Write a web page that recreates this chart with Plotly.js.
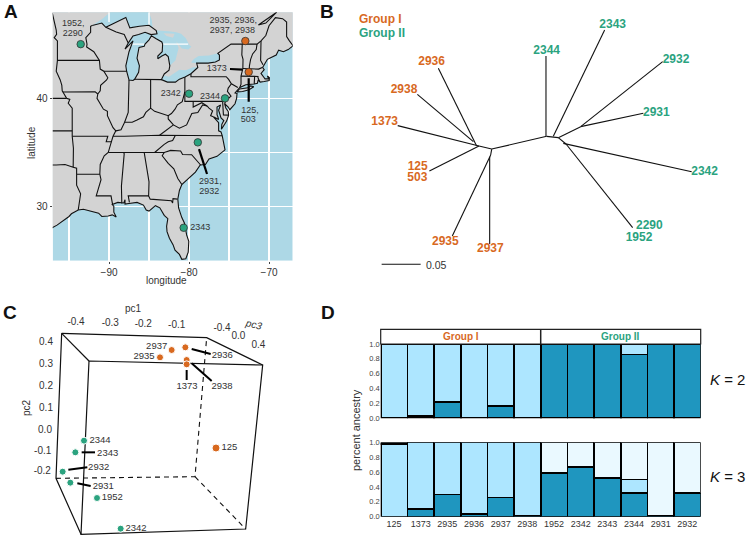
<!DOCTYPE html>
<html><head><meta charset="utf-8">
<script src="https://cdn.plot.ly/plotly-3.0.1.min.js"></script>
<style>html,body{margin:0;padding:0;background:#fff}</style></head><body>
<div id="plot" style="width:748px;height:539px"></div>
<script>
/* ---------- colours ---------- */
const ORANGE='#D8691F', GREEN='#2BA37F', LAND='#D3D3D3', SEA='#ADD8E6', INK='#333333';
const DARKBAR='#1F96BF', MIDBAR='#ADE6FF', PALEBAR='#EAF9FF';
const FONT='"Liberation Sans", Arial, sans-serif';

/* ---------- panel A: map geography (lon,lat) ---------- */
const eastCoast=[[-66,44.6],[-67.0,44.85],[-67.6,44.5],[-68.2,44.3],[-68.8,44.45],[-69.1,44.0],[-69.8,43.75],[-70.2,43.6],[-70.6,43.1],[-70.8,42.85],[-70.6,42.65],[-71.0,42.3],[-70.65,41.95],[-70.5,41.8],[-70.05,41.8],[-70.2,42.07],[-69.95,41.9],[-69.98,41.65],[-70.6,41.55],[-71.1,41.5],[-71.35,41.7],[-71.45,41.4],[-71.85,41.32],[-72.9,41.25],[-73.65,41.0],[-74.0,40.72],[-74.25,40.5],[-74.0,40.45],[-74.05,40.0],[-74.25,39.5],[-74.9,38.95],[-75.1,39.2],[-75.55,39.5],[-75.4,39.1],[-75.1,38.8],[-75.05,38.45],[-75.3,37.9],[-75.95,37.15],[-75.9,37.6],[-75.65,37.95],[-76.0,38.2],[-76.3,38.9],[-76.05,39.4],[-76.5,39.2],[-76.5,38.5],[-76.4,38.3],[-76.3,38.05],[-76.95,38.3],[-76.3,37.75],[-76.3,37.0],[-76.0,36.9],[-75.85,36.55],[-75.5,35.25],[-76.5,34.65],[-77.5,34.4],[-77.95,33.9],[-78.6,33.85],[-79.2,33.2],[-79.9,32.7],[-80.5,32.3],[-80.9,32.05],[-81.2,31.5],[-81.4,30.7],[-81.3,29.9],[-80.9,29.0],[-80.55,28.45],[-80.3,27.4],[-80.03,26.8],[-80.1,25.8],[-80.4,25.2],[-80.9,25.15],[-81.2,25.6],[-81.75,26.0],[-82.0,26.5],[-82.45,27.1],[-82.75,27.7],[-82.8,28.2],[-82.65,28.9],[-83.1,29.2],[-83.65,29.9],[-84.2,30.1],[-85.0,29.6],[-85.35,29.7],[-85.7,30.15],[-86.5,30.4],[-87.5,30.3],[-88.0,30.25],[-88.0,30.65],[-88.15,30.35],[-88.9,30.4],[-89.6,30.2],[-89.4,30.05],[-89.4,29.5],[-89.1,29.05],[-89.6,29.25],[-90.1,29.15],[-90.9,29.1],[-91.3,29.4],[-91.8,29.5],[-92.2,29.55],[-93.2,29.77],[-93.85,29.7],[-94.7,29.35],[-95.0,29.1],[-95.9,28.6],[-96.5,28.3],[-98,27.7]];
const longIsland=[[-74.0,40.6],[-73.7,40.87],[-72.6,40.97],[-72.3,41.15],[-71.9,41.07],[-72.5,40.8],[-73.3,40.63]];
const lakeSuperior=[[-92.1,46.72],[-90.9,47.3],[-90.0,47.85],[-89.2,48.4],[-88.2,48.9],[-86.4,48.8],[-85.0,47.95],[-84.65,47.2],[-84.55,46.5],[-85.0,46.75],[-86.2,46.65],[-87.4,46.5],[-87.9,47.47],[-88.4,47.3],[-89.5,46.85],[-90.4,46.55],[-90.9,46.95]];
const lakeMichigan=[[-87.5,41.7],[-87.8,42.5],[-87.9,43.0],[-87.7,43.7],[-87.5,44.3],[-87.0,45.3],[-87.55,44.85],[-88.0,44.55],[-87.6,45.1],[-87.0,45.75],[-86.3,45.9],[-85.5,46.1],[-84.75,45.88],[-84.75,45.78],[-85.0,45.4],[-85.5,45.0],[-85.6,44.8],[-86.25,44.7],[-86.5,43.7],[-86.2,43.0],[-86.3,42.4],[-86.8,41.76],[-87.0,41.65]];
const lakeHuron=[[-84.7,45.85],[-84.0,45.95],[-84.1,46.25],[-83.5,46.25],[-82.5,46.2],[-81.6,46.1],[-81.0,45.95],[-80.4,45.55],[-79.95,44.9],[-79.7,44.75],[-80.1,44.5],[-80.9,44.6],[-81.6,45.25],[-81.3,44.65],[-81.7,43.5],[-82.4,43.0],[-82.6,43.85],[-82.95,44.07],[-83.4,43.9],[-83.9,43.65],[-83.9,43.9],[-83.35,44.3],[-83.3,45.0],[-83.4,45.2],[-84.1,45.5],[-84.7,45.78]];
const manitoulin=[[-83.2,46.0],[-82.5,45.97],[-81.8,45.95],[-82.0,45.6],[-82.8,45.75]];
const lakeErie=[[-83.45,41.73],[-82.7,41.5],[-81.7,41.5],[-81.2,41.77],[-80.5,41.98],[-80.1,42.15],[-79.76,42.27],[-78.9,42.85],[-79.5,42.87],[-80.4,42.6],[-81.2,42.65],[-82.0,42.25],[-82.5,42.0],[-83.1,42.1]];
const lakeOntario=[[-79.75,43.3],[-79.05,43.25],[-77.6,43.25],[-76.7,43.35],[-76.2,43.55],[-76.2,44.0],[-76.4,44.15],[-77.5,43.95],[-78.8,43.9],[-79.4,43.63]];
const lakeGrid=[[[-87.3,45],[-85.55,45]],[[-83.3,45],[-80.1,45]],[[-90,47.05],[-90,47.94]],[[-85,46.7],[-85,47.94]]];
const borders=[
 [[-92.1,46.72],[-92.3,46.65],[-92.3,46.1],[-92.9,45.6],[-92.75,45.0],[-92.8,44.75],[-91.9,44.3],[-91.2,43.5],[-91.1,42.7],[-90.65,42.5],[-90.15,41.9],[-90.3,41.7],[-91.05,41.2],[-91.1,40.7],[-91.4,40.4],[-91.5,40.0],[-90.7,39.0],[-90.2,38.8],[-90.2,38.4],[-89.5,37.3],[-89.15,37.0],[-89.5,36.5],[-89.7,36.0],[-89.9,35.6],[-90.1,35.0],[-90.6,34.7],[-91.1,33.9],[-91.15,33.0],[-91.0,32.5],[-91.6,31.0],[-89.75,31.0],[-89.55,30.2]],
 [[-97.1,47.9],[-96.8,47.0],[-96.6,46.3],[-96.55,45.9],[-96.85,45.6],[-96.45,45.3],[-96.45,43.5],[-96.6,42.5],[-96.1,41.7],[-95.9,41.2],[-95.85,40.7],[-95.3,40.0],[-94.9,39.9],[-95.1,39.55],[-94.6,39.1],[-94.6,36.5],[-94.45,35.4],[-94.48,33.65],[-95.5,33.9],[-96.6,33.85],[-97.1,33.85]],
 [[-96.45,43.5],[-91.2,43.5]],[[-95.77,40.58],[-91.73,40.6],[-91.4,40.4]],[[-97.1,40],[-95.3,40]],[[-97.1,37],[-94.6,37]],
 [[-89.7,36.0],[-90.35,36.0],[-90.15,36.5],[-94.6,36.5]],
 [[-91.15,33.0],[-94.05,33.0],[-94.05,33.55],[-94.48,33.65]],[[-94.05,33.0],[-94.05,31.99],[-93.55,31.2],[-93.75,30.4],[-93.85,29.7]],
 [[-92.1,46.72],[-90.9,46.95],[-90.4,46.55],[-89.1,46.13],[-88.1,45.9],[-87.8,45.35],[-87.6,45.1],[-88.0,44.55],[-87.55,44.85],[-87.0,45.3],[-87.5,44.3],[-87.7,43.7],[-87.9,43.0],[-87.8,42.5],[-87.55,41.75],[-87.5,41.7],[-87.0,41.65],[-86.8,41.76],[-86.3,42.4],[-86.2,43.0],[-86.5,43.7],[-86.25,44.7],[-85.6,44.8],[-85.5,45.0],[-85.0,45.4],[-84.7,45.78],[-84.1,45.5],[-83.4,45.2],[-83.3,45.0],[-83.35,44.3],[-83.9,43.9],[-83.9,43.65],[-83.4,43.9],[-82.95,44.07],[-82.6,43.85],[-82.4,43.0],[-82.5,42.6],[-83.1,42.25],[-83.45,41.73],[-82.7,41.5],[-81.7,41.5],[-81.2,41.77],[-80.5,41.98],[-80.1,42.15],[-79.76,42.27],[-78.9,42.85],[-79.05,43.25],[-77.6,43.25],[-76.7,43.35],[-76.2,43.55],[-76.2,44.0],[-76.4,44.15],[-74.75,45.0],[-71.5,45.0],[-71.0,45.3],[-70.4,45.8],[-70.0,46.7],[-69.2,47.45],[-68.3,47.35],[-67.8,47.05],[-67.8,45.7],[-67.45,45.3],[-67.0,44.85]],
 [[-87.6,45.1],[-87.0,45.75],[-86.3,45.9],[-85.5,46.1],[-84.75,45.88],[-84.0,45.95],[-84.1,46.25],[-84.55,46.5],[-85.0,46.75],[-86.2,46.65],[-87.4,46.5],[-87.9,47.47],[-88.4,47.3],[-89.5,46.85],[-90.4,46.55]],
 [[-90.65,42.5],[-87.8,42.5]],[[-87.5,41.7],[-87.53,39.3],[-87.6,38.7],[-88.05,37.8]],
 [[-89.15,37.0],[-88.5,37.1],[-88.05,37.8],[-87.1,37.8],[-86.5,38.0],[-85.7,38.3],[-85.4,38.7],[-84.8,39.1],[-84.3,38.8],[-83.7,38.65],[-82.6,38.4],[-82.2,38.6],[-81.75,39.0],[-81.45,39.4],[-80.85,39.7],[-80.52,40.6]],
 [[-84.8,39.1],[-84.8,41.72]],[[-86.8,41.76],[-84.8,41.72],[-83.45,41.73]],
 [[-79.76,42.27],[-79.76,42.0],[-75.35,42.0],[-75.05,41.75],[-74.7,41.35],[-73.9,41.0]],
 [[-74.7,41.35],[-75.1,40.95],[-75.2,40.65],[-74.75,40.2],[-75.4,39.8],[-75.55,39.5]],
 [[-80.52,41.98],[-80.52,39.72],[-75.8,39.72],[-75.4,39.8]],[[-75.8,39.72],[-75.7,38.46],[-75.05,38.45]],
 [[-79.48,39.72],[-79.48,39.2],[-78.4,39.6],[-77.75,39.3],[-77.5,39.1],[-77.05,38.85],[-77.3,38.4],[-76.95,38.3]],
 [[-77.75,39.3],[-78.3,39.4],[-78.9,38.7],[-79.65,38.6],[-80.3,37.55],[-81.2,37.25],[-81.95,37.55],[-82.6,38.1],[-82.6,38.4]],
 [[-81.95,37.55],[-83.68,36.6]],[[-75.87,36.55],[-81.7,36.59],[-83.68,36.6],[-88.07,36.5],[-89.5,36.5]],
 [[-81.7,36.59],[-82.05,36.1],[-82.6,36.0],[-83.1,35.75],[-84.3,35.0]],[[-90.1,35.0],[-84.3,35.0],[-83.1,35.0],[-82.3,35.2],[-81.05,35.15],[-80.8,34.82],[-79.67,34.8],[-78.55,33.85]],
 [[-83.1,35.0],[-83.35,34.7],[-82.6,34.0],[-81.9,33.5],[-81.4,32.6],[-80.9,32.05]],
 [[-85.6,35.0],[-85.18,32.85],[-85.0,32.3],[-85.05,31.0],[-84.85,30.7],[-82.2,30.55],[-82.05,30.35],[-82.0,30.75],[-81.45,30.7]],
 [[-85.0,31.0],[-87.6,31.0],[-87.45,30.4]],[[-88.2,35.0],[-88.1,34.9],[-88.45,31.9],[-88.4,30.3]],
 [[-71.5,45.0],[-71.6,44.5],[-72.05,44.1],[-72.3,43.6],[-72.45,43.0],[-72.46,42.73]],
 [[-73.35,45.0],[-73.4,44.0],[-73.25,43.6],[-73.27,42.75],[-73.5,42.05],[-73.5,41.3],[-73.65,41.0]],
 [[-73.27,42.75],[-71.3,42.7],[-70.85,42.85]],[[-73.5,42.05],[-71.8,42.02],[-71.38,42.02],[-71.38,41.9],[-71.15,41.5]],[[-71.8,42.02],[-71.85,41.32]],
 [[-70.75,43.1],[-71.05,43.5],[-71.0,45.3]],
 [[-71.33,46.77],[-69.04,47.95],[-70.4,46.95],[-71.33,46.77]]
];
/* sampling sites */
const siteLon=[-93.54,-72.96,-72.54,-80.0,-75.5,-78.9,-80.67];
const siteLat=[45.0,45.29,42.43,40.43,40.0,35.94,28.06];
const siteColor=[GREEN,ORANGE,ORANGE,GREEN,GREEN,GREEN,GREEN];
const mapLabel=['1952,','2290','2935, 2936,','2937, 2938','1373','125,','503','2342','2344','2931,','2932','2343'];
const mapLabelLon=[-94.46,-94.54,-74.46,-74.58,-76.54,-72.38,-72.58,-82.29,-77.38,-77.33,-77.46,-78.58];
const mapLabelLat=[46.9,45.94,47.17,46.22,42.77,38.83,38.0,40.4,40.12,32.31,31.35,28.09];
const mapLeaders=[[[-74.88,42.71],[-73.33,42.65]],[[-72.54,41.85],[-72.54,39.69]],[[-78.75,35.32],[-77.75,33.02]]];

/* ---------- panel B: tree, branch ends in units of 0.01 substitutions ---------- */
const treeBranches=[
 [[20.73,16.79],[27.78,18.42]],[[19.10,17.18],[20.73,16.79]],[[27.78,18.42],[29.27,18.25]],
 [[8.68,19.79],[19.10,17.18]],[[12.74,13.97],[19.10,17.18]],[[13.89,27.14],[18.80,17.18]],[[11.20,23.80],[18.38,17.74]],
 [[20.47,4.62],[20.47,15.81]],[[15.68,5.64],[20.60,16.03]],[[20.60,16.03],[20.73,16.79]],
 [[27.69,28.72],[27.69,18.42]],[[35.21,32.05],[28.63,18.42]],[[29.27,18.25],[32.14,19.66]],
 [[42.65,27.99],[32.14,19.66]],[[40.17,21.37],[32.14,19.66]],[[46.37,13.89],[29.91,17.52]],
 [[29.27,18.25],[30.26,17.44]],[[38.80,6.71],[30.26,17.44]]];
const treeScale=[[6.62,2.01],[11.62,2.01]];
const treeLabel=['2936','2938','1373','125','503','2935','2937','2344','2343','2932','2931','2342','2290','1952'];
const treeLabelX=[13.03,9.49,7.01,11.24,11.20,14.79,20.56,27.78,36.24,44.36,41.84,48.03,40.94,39.62];
const treeLabelY=[27.99,24.32,20.30,14.53,13.08,4.83,3.97,29.40,32.74,28.16,21.41,13.80,6.96,5.38];
const treeLabelColor=[ORANGE,ORANGE,ORANGE,ORANGE,ORANGE,ORANGE,ORANGE,GREEN,GREEN,GREEN,GREEN,GREEN,GREEN,GREEN];

/* ---------- panel C: PCA cube, projected coordinates ---------- */
const cubeSolid=[[[267,198],[788,210],[737,702],[243,718],[267,198]],[[185,115],[267,198]],[[185,115],[620,128],[788,210]],[[185,115],[168,550],[243,718]]];
const cubeDashed=[[[168,550],[585,545],[620,128]],[[585,545],[737,702]]];
const pcaName=['2937','2936','2935','2938','1373','125','2344','2343','2932','2931','1952','2342'];
const pcaX=[515,556,480,560,560,648,252,226,188,211,291,362];
const pcaY=[165,157,187,195,208,459,437,472,530,563,609,701];
const pcaColor=[ORANGE,ORANGE,ORANGE,ORANGE,ORANGE,ORANGE,GREEN,GREEN,GREEN,GREEN,GREEN,GREEN];
const pcaSize=[7,7,7,7,7,8,7,7,7,7,7,7];
const pcaLabelX=[470,667,432,666,561,688,300,323,296,310,337,408];
const pcaLabelY=[155,182,186,276,276,458,438,476,517,574,609,701];
const pcaLeaders=[[[575,162],[632,177]],[[575,205],[635,258]],[[560,225],[560,255]],[[245,472],[285,472]],[[205,524],[262,517]],[[232,565],[272,573]]];
const cubeTick=['-0.4','-0.3','-0.2','-0.1','-0.4','0.0','0.4','0.4','0.3','0.2','0.1','0.0','-0.1','-0.2'];
const cubeTickX=[228,331,430,530,666,715,775,138,138,138,138,135,128,127];
const cubeTickY=[82,84,87,90,100,124,150,143,209,275,340,405,468,530];

/* ---------- panel D: ancestry ---------- */
const samples=['125','1373','2935','2936','2937','2938','1952','2342','2343','2344','2931','2932'];
const k2Dark=[null,0.03,0.22,null,0.17,null,1,1,1,0.86,1,1];
const k2Light=[1,0.97,0.78,1,0.83,1,null,null,null,0.14,null,null];
const k3Dark=[null,0.10,0.30,0.04,0.26,0.015,0.59,0.67,0.52,0.32,0.015,0.32];
const k3Light=[0.98,0.90,0.70,0.96,0.74,0.985,null,null,null,0.18,null,null];
const k3Pale=[0.02,null,null,null,null,null,0.41,0.33,0.48,0.50,0.985,0.68];
const ancestryTicks=[0,0.2,0.4,0.6,0.8,1];

/* ---------- helpers ---------- */
const W=748,H=539;
const dx=(a,b)=>[a/W,b/W], dy=(top,bot)=>[1-bot/H,1-top/H];
const px=v=>v/W, py=v=>1-v/H;
const flat=(lines,i)=>lines.flatMap(l=>l.map(p=>p[i]).concat([null]));
const landOuter=[[-98,27.7],[-98,50],[-66,50]].concat(eastCoast);
const closed=l=>l.concat([l[0]]);
const hidden={visible:false,showgrid:false,zeroline:false};
const traces=[];
/* map */
function fillPoly(parts,col){const c=parts.map(closed);traces.push({type:'scatter',mode:'lines',xaxis:'x',yaxis:'y',x:flat(c,0),y:flat(c,1),fill:'toself',fillcolor:col,line:{width:0,color:col},hoverinfo:'skip'});}
fillPoly([landOuter,longIsland],LAND);
[lakeSuperior,lakeMichigan,lakeHuron,lakeErie,lakeOntario].forEach(l=>fillPoly([l],SEA));
fillPoly([manitoulin],LAND);
traces.push({type:'scatter',mode:'lines',xaxis:'x',yaxis:'y',x:flat(lakeGrid,0),y:flat(lakeGrid,1),line:{width:1.4,color:'#fff'},hoverinfo:'skip'});
traces.push({type:'scatter',mode:'lines',xaxis:'x',yaxis:'y',x:flat(borders.concat([eastCoast,closed(longIsland)]),0),y:flat(borders.concat([eastCoast,closed(longIsland)]),1),
  line:{width:1.1,color:'#111'},hoverinfo:'skip'});
traces.push({type:'scatter',mode:'lines',xaxis:'x',yaxis:'y',x:flat(mapLeaders,0),y:flat(mapLeaders,1),line:{width:2.2,color:'#000'},hoverinfo:'skip'});
traces.push({type:'scatter',mode:'markers',xaxis:'x',yaxis:'y',x:siteLon,y:siteLat,marker:{size:7.5,color:siteColor,opacity:1,line:{width:0.8,color:'#333'}}});
traces.push({type:'scatter',mode:'text',xaxis:'x',yaxis:'y',x:mapLabelLon,y:mapLabelLat,text:mapLabel,textposition:'middle center',textfont:{family:FONT,size:9,color:INK},cliponaxis:false});
/* tree */
traces.push({type:'scatter',mode:'lines',xaxis:'x2',yaxis:'y2',x:flat(treeBranches,0),y:flat(treeBranches,1),line:{width:1.1,color:'#111'}});
traces.push({type:'scatter',mode:'lines',xaxis:'x2',yaxis:'y2',x:treeScale.map(p=>p[0]),y:treeScale.map(p=>p[1]),line:{width:1.1,color:'#111'}});
traces.push({type:'scatter',mode:'text',xaxis:'x2',yaxis:'y2',x:treeLabelX,y:treeLabelY,text:treeLabel.map(s=>'<b>'+s+'</b>'),textposition:'middle center',textfont:{family:FONT,size:12,color:treeLabelColor}});
/* cube */
traces.push({type:'scatter',mode:'lines',xaxis:'x3',yaxis:'y3',x:flat(cubeSolid,0),y:flat(cubeSolid,1),line:{width:1.2,color:'#111'}});
traces.push({type:'scatter',mode:'lines',xaxis:'x3',yaxis:'y3',x:flat(cubeDashed,0),y:flat(cubeDashed,1),line:{width:1.1,color:'#111',dash:'5px,4px'}});
traces.push({type:'scatter',mode:'lines',xaxis:'x3',yaxis:'y3',x:flat(pcaLeaders,0),y:flat(pcaLeaders,1),line:{width:2,color:'#000'}});
traces.push({type:'scatter',mode:'markers',xaxis:'x3',yaxis:'y3',x:pcaX,y:pcaY,marker:{size:pcaSize,sizemode:'diameter',color:pcaColor,opacity:1}});
traces.push({type:'scatter',mode:'text',xaxis:'x3',yaxis:'y3',x:pcaLabelX,y:pcaLabelY,text:pcaName,textposition:'middle center',textfont:{family:FONT,size:9.5,color:INK}});
traces.push({type:'scatter',mode:'text',xaxis:'x3',yaxis:'y3',x:cubeTickX,y:cubeTickY,text:cubeTick,textposition:'middle center',textfont:{family:FONT,size:10,color:INK}});
/* bars */
const barLine={color:'#000',width:1.7};
function bars(ax,ay,vals,col){traces.push({type:'bar',xaxis:ax,yaxis:ay,x:samples,y:vals,marker:{color:col,line:barLine},cliponaxis:false,hoverinfo:'skip'});}
bars('x4','y4',k2Dark,DARKBAR);bars('x4','y4',k2Light,MIDBAR);
bars('x5','y5',k3Dark,DARKBAR);bars('x5','y5',k3Light,MIDBAR);bars('x5','y5',k3Pale,PALEBAR);

const gridMinorX={tickvals:[-95,-85,-75],showgrid:true,gridcolor:'#fff',gridwidth:1.4,ticks:''};
const gridMinorY={tickvals:[35,45],showgrid:true,gridcolor:'#fff',gridwidth:1.4,ticks:''};
const ann=(text,x,y,o)=>Object.assign({text,x:px(x),y:py(y),xref:'paper',yref:'paper',showarrow:false,font:{family:FONT,size:10,color:INK},xanchor:'center',yanchor:'middle'},o||{});
const letter={font:{family:FONT,size:19,color:'#111'}};

const layout={width:W,height:H,autosize:false,margin:{l:0,r:0,t:0,b:0,pad:0},paper_bgcolor:'#fff',plot_bgcolor:'#fff',showlegend:false,barmode:'stack',bargap:0,hovermode:false,
 font:{family:FONT,color:INK},
 xaxis:{domain:dx(52.7,292.7),range:[-97.04,-67.04],anchor:'y',tickvals:[-90,-80,-70],ticks:'outside',ticklen:2,tickcolor:'#444',tickwidth:1,tickfont:{family:FONT,size:10,color:INK},showgrid:true,gridcolor:'#fff',gridwidth:1.4,zeroline:false,showline:false,minor:gridMinorX},
 yaxis:{domain:dy(12.3,260.7),range:[25.02,47.94],anchor:'x',tickvals:[30,40],ticks:'outside',ticklen:2,tickcolor:'#444',tickwidth:1,tickfont:{family:FONT,size:10,color:INK},showgrid:true,gridcolor:'#fff',gridwidth:1.4,zeroline:false,showline:false,minor:gridMinorY},
 xaxis2:Object.assign({domain:dx(330,748),range:[0,53.59],anchor:'y2'},hidden),
 yaxis2:Object.assign({domain:dy(0,280),range:[0,35.9],anchor:'x2'},hidden),
 xaxis3:Object.assign({domain:dx(0,280),range:[0,840],anchor:'y3'},hidden),
 yaxis3:Object.assign({domain:dy(295,539),range:[732,0],anchor:'x3'},hidden),
 xaxis4:{domain:dx(380.7,700.7),range:[-0.5,11.5],anchor:'y4',type:'category',categoryorder:'array',categoryarray:samples,showticklabels:false,ticks:'',showgrid:false,zeroline:false,showline:false},
 yaxis4:{domain:dy(344,418.3),range:[0,1],anchor:'x4',tickvals:ancestryTicks,tickformat:'.1f',ticks:'',tickfont:{family:FONT,size:7.5,color:'#444'},showgrid:false,zeroline:false,showline:false,ticklabelstandoff:0},
 xaxis5:{domain:dx(380.7,700.7),range:[-0.5,11.5],anchor:'y5',type:'category',categoryorder:'array',categoryarray:samples,tickfont:{family:FONT,size:9,color:INK},ticks:'',showgrid:false,zeroline:false,showline:false},
 yaxis5:{domain:dy(442.3,516.7),range:[0,1],anchor:'x5',tickvals:ancestryTicks,tickformat:'.1f',ticks:'',tickfont:{family:FONT,size:7.5,color:'#444'},showgrid:false,zeroline:false,showline:false,ticklabelstandoff:0},
 shapes:[
  {type:'rect',xref:'x',yref:'y',x0:-97.04,x1:-67.04,y0:25.02,y1:47.94,fillcolor:SEA,line:{width:0},layer:'below'},
  {type:'rect',xref:'paper',yref:'paper',x0:px(380.7),x1:px(700.7),y0:py(344),y1:py(329.3),fillcolor:'#fff',line:{color:'#222',width:1.2}},
  {type:'line',xref:'paper',yref:'paper',x0:px(540.7),x1:px(540.7),y0:py(344),y1:py(329.3),line:{color:'#222',width:1.5}}
 ],
 annotations:[
  ann('<b>A</b>',10.5,12,letter),
  ann('<b>B</b>',327,11,letter),
  ann('<b>C</b>',10,312,letter),
  ann('<b>D</b>',328,312,letter),
  ann('latitude',32,142,{textangle:-90}),
  ann('longitude',166,280),
  ann('<b>Group I</b>',356.5,19,{xanchor:'left',font:{family:FONT,size:12,color:ORANGE}}),
  ann('<b>Group II</b>',356.5,32.5,{xanchor:'left',font:{family:FONT,size:12,color:GREEN}}),
  ann('0.05',436,264.5,{font:{family:FONT,size:10.5,color:INK}}),
  ann('pc1',133,308),
  ann('pc2',26,408,{textangle:-90}),
  ann('<i>pc3</i>',254,324,{textangle:14}),
  ann('<b>Group I</b>',460.7,336.5,{font:{family:FONT,size:10,color:ORANGE}}),
  ann('<b>Group II</b>',620.7,336.5,{font:{family:FONT,size:10,color:GREEN}}),
  ann('percent ancestry',356,430,{textangle:-90,font:{family:FONT,size:11,color:INK}}),
  ann('<i>K</i> = 2',727,379,{font:{family:FONT,size:15,color:'#111'}}),
  ann('<i>K</i> = 3',727,476,{font:{family:FONT,size:15,color:'#111'}})
 ]};
Plotly.newPlot('plot',traces,layout,{displayModeBar:false,staticPlot:true});
</script></body></html>
